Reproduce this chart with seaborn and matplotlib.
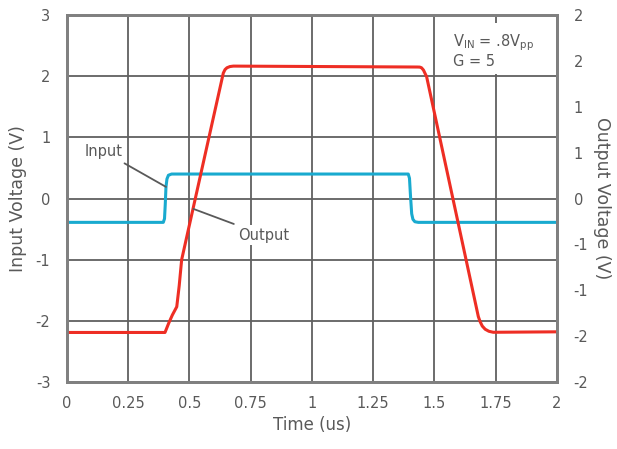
import numpy as np
import pandas as pd
import matplotlib
matplotlib.use("Agg")
import matplotlib.pyplot as plt
import seaborn as sns

# Datos
# Entrada (eje izquierdo, V)
t_in = [0.0, 0.393, 0.398, 0.401, 0.404, 0.408, 0.414, 0.427, 1.393, 1.398, 1.402, 1.407, 1.412, 1.420, 1.434, 2.0]
v_in = [-0.39, -0.39, -0.33, -0.10, 0.19, 0.32, 0.38, 0.40, 0.40, 0.33, 0.05, -0.25, -0.34, -0.38, -0.39, -0.39]

# Salida (eje derecho, V)
t_out = [0.0, 0.400, 0.415, 0.430, 0.448, 0.458, 0.468, 0.638, 0.645, 0.653, 0.665, 0.679,
         1.430, 1.440, 1.447, 1.455, 1.468, 1.679, 1.686, 1.695, 1.707, 1.722, 1.740, 2.0]
v_out = [-1.46, -1.46, -1.36, -1.27, -1.18, -0.95, -0.667, 1.367, 1.405, 1.425, 1.438, 1.443,
         1.433, 1.432, 1.425, 1.40, 1.327, -1.287, -1.34, -1.39, -1.425, -1.447, -1.458, -1.453]

x_ticks = [0, 0.25, 0.5, 0.75, 1, 1.25, 1.5, 1.75, 2]
x_labels = ["0", "0.25", "0.5", "0.75", "1", "1.25", "1.5", "1.75", "2"]
left_ticks = [-3, -2, -1, 0, 1, 2, 3]
right_ticks = [-2, -1.5, -1, -0.5, 0, 0.5, 1, 1.5, 2]
right_labels = ["-2", "-2", "-1", "-1", "0", "1", "1", "2", "2"]

df_in = pd.DataFrame({"t": t_in, "v": v_in})
df_out = pd.DataFrame({"t": t_out, "v": v_out})

sns.set_style("white")
plt.rcParams["font.family"] = ["DejaVu Sans"]
plt.rcParams["mathtext.default"] = "regular"
plt.rcParams["axes.unicode_minus"] = False
gris = "#595959"

fig = plt.figure(figsize=(6.17, 4.49), dpi=100)
ax = fig.add_axes([0.1086, 0.1492, 0.7941, 0.8174])
ax2 = ax.twinx()

sns.lineplot(data=df_in, x="t", y="v", ax=ax, color="#19AACF", linewidth=2.2, zorder=3)
sns.lineplot(data=df_out, x="t", y="v", ax=ax2, color="#EE2E24", linewidth=2.2, zorder=3)

ax.set_xlim(0, 2)
ax.set_ylim(-3, 3)
ax2.set_ylim(-2, 2)
ax.set_xticks(x_ticks)
ax.set_xticklabels(x_labels)
ax.set_yticks(left_ticks)
ax2.set_yticks(right_ticks)
ax2.set_yticklabels(right_labels)

ax.grid(True, color="#606060", linewidth=1.3)
ax.set_axisbelow(True)
for a in (ax, ax2):
    for s in a.spines.values():
        s.set_color("#808080")
        s.set_linewidth(2.0)
        s.set_zorder(6)
    a.tick_params(length=0, labelsize=10.5, labelcolor=gris)
ax.tick_params(axis="y", pad=12)
ax.tick_params(axis="x", pad=10)
ax2.tick_params(axis="y", pad=12)

ax.set_xlabel("Time (us)", fontsize=12, color=gris, labelpad=4)
ax.set_ylabel("Input Voltage (V)", fontsize=12.5, color=gris, labelpad=6)
ax2.set_ylabel("Output Voltage (V)", fontsize=12.5, color=gris, rotation=270, labelpad=16)

caja = dict(facecolor="white", edgecolor="none", pad=2)
ax2.annotate("Input", xy=(0.404, 0.19 * 2 / 3), xycoords=("data", "data"),
             xytext=(0.151, 0.765 * 2 / 3), textcoords="data",
             ha="center", va="center", fontsize=10.5, color=gris, bbox=caja,
             arrowprops=dict(arrowstyle="-", color=gris, lw=1.3, shrinkA=2, shrinkB=0), zorder=5)
ax2.annotate("Output", xy=(0.516, -0.17 * 2 / 3), xytext=(0.804, -0.60 * 2 / 3),
             ha="center", va="center", fontsize=10.5, color=gris, bbox=caja,
             arrowprops=dict(arrowstyle="-", color=gris, lw=1.3, shrinkA=2, shrinkB=0), zorder=5)
ax2.text(1.576, 2.72 * 2 / 3, "V$_{IN}$ = .8V$_{pp}$\nG = 5", ha="left", va="top",
         fontsize=10.5, color=gris, linespacing=1.1,
         bbox=dict(facecolor="white", edgecolor="none", pad=4), zorder=5)

fig.savefig("out.png", dpi=100)
